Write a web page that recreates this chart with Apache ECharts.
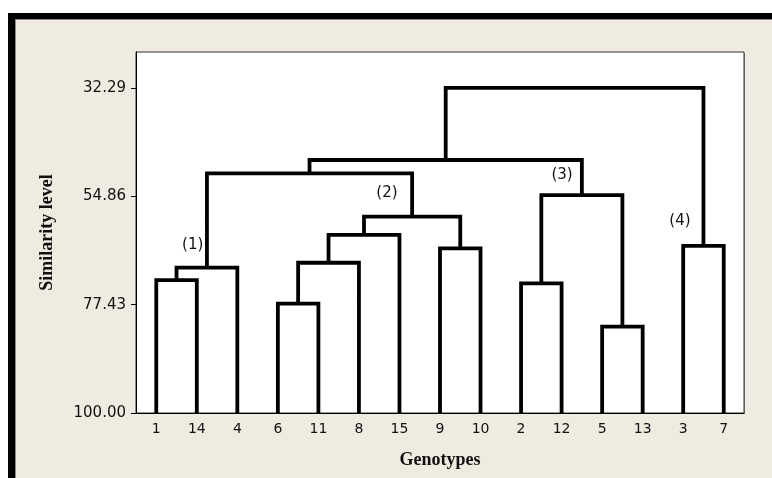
<!DOCTYPE html>
<html>
<head>
<meta charset="utf-8">
<script src="https://cdn.jsdelivr.net/npm/echarts@6/dist/echarts.min.js"></script>
<style>
html,body{margin:0;padding:0;background:#fff;}
#chart{width:772px;height:478px;}
</style>
</head>
<body>
<div id="chart"></div>
<script>
// Leaf order along the x axis (genotypes)
const leaves = ['1','14','4','6','11','8','15','9','10','2','12','5','13','3','7'];
// Y axis tick labels (similarity level)
const yTicks = [32.29, 54.86, 77.43, 100.00];
// Merges: node ids 0..14 are leaves, merge k creates node 15+k
const mergeLeft  = [0, 15, 3, 17, 18, 7, 19, 16, 9, 11, 23, 22, 13, 26];
const mergeRight = [1, 2, 4, 5, 6, 8, 20, 21, 10, 12, 24, 25, 14, 27];
const mergeLevel = [72.3, 69.7, 77.2, 68.7, 62.9, 65.7, 59.1, 50.1, 73.0, 82.0, 54.6, 47.3, 65.2, 32.29];
// Cluster annotations
const clusterNames = ['(1)', '(2)', '(3)', '(4)'];
const clusterX = [0.9, 5.69, 10.01, 12.92];
const clusterLevel = [65.0, 54.2, 50.4, 60.0];

// Build node positions / heights (distance = 100 - similarity)
const nodeX = leaves.map((_, i) => i);
const nodeD = leaves.map(() => 0);
const segs = [];
for (let k = 0; k < mergeLevel.length; k++) {
  const a = mergeLeft[k], b = mergeRight[k];
  const d = 100 - mergeLevel[k];
  segs.push([nodeX[a], nodeD[a], nodeX[b], nodeD[b], d]);
  nodeX.push((nodeX[a] + nodeX[b]) / 2);
  nodeD.push(d);
}
const tickDist = yTicks.map(t => +(100 - t).toFixed(2));
const labelData = clusterNames.map((n, i) => ({ name: n, value: [clusterX[i], 100 - clusterLevel[i]] }));

const chart = echarts.init(document.getElementById('chart'), null, { renderer: 'canvas' });
const tickFont = 'DejaVu Sans';
chart.setOption({
  backgroundColor: '#ffffff',
  animation: false,
  graphic: [
    { type: 'rect', z: -10, shape: { x: 8, y: 13, width: 764, height: 465 }, style: { fill: '#000' }, silent: true },
    { type: 'rect', z: -9, shape: { x: 15, y: 19, width: 757, height: 459 }, style: { fill: '#8a8a8a' }, silent: true },
    { type: 'rect', z: -8, shape: { x: 16, y: 20, width: 756, height: 458 }, style: { fill: '#efebe1' }, silent: true },
    { type: 'rect', z: -7, shape: { x: 137, y: 53, width: 608, height: 361 }, style: { fill: '#8a8a8a' }, silent: true }
  ],
  grid: {
    left: 136, top: 52, width: 608, height: 361,
    show: true, backgroundColor: '#ffffff', borderColor: '#333', borderWidth: 1
  },
  xAxis: [
    {
      type: 'category', data: leaves, boundaryGap: true, gridIndex: 0,
      axisLine: { onZero: false, lineStyle: { color: '#000', width: 1 } },
      axisTick: { alignWithLabel: true, length: 4, lineStyle: { color: '#000' } },
      axisLabel: { color: '#111', fontFamily: tickFont, fontSize: 14, margin: 9 },
      name: 'Genotypes', nameLocation: 'middle', nameGap: 38,
      nameTextStyle: { fontFamily: 'Liberation Serif', fontWeight: 'bold', fontSize: 18, color: '#111' }
    },
    { type: 'value', min: -0.5, max: 14.5, show: false, gridIndex: 0, axisLine: { onZero: false } }
  ],
  yAxis: {
    type: 'value', min: 0, max: 75.2,
    splitLine: { show: false },
    axisLine: { show: true, onZero: false, lineStyle: { color: '#000', width: 1 } },
    axisTick: { show: true, length: 5, customValues: tickDist, lineStyle: { color: '#000' } },
    axisLabel: {
      customValues: tickDist, color: '#111', fontFamily: tickFont, fontSize: 15, margin: 10,
      formatter: v => (100 - v).toFixed(2)
    },
    name: 'Similarity level', nameLocation: 'middle', nameGap: 80, nameRotate: 90,
    nameTextStyle: { fontFamily: 'Liberation Serif', fontWeight: 'bold', fontSize: 18, color: '#111' }
  },
  series: [
    {
      type: 'custom', xAxisIndex: 1, yAxisIndex: 0, data: segs, clip: false,
      renderItem: function (params, api) {
        const xa = api.value(0), da = api.value(1), xb = api.value(2), db = api.value(3), d = api.value(4);
        const pts = [api.coord([xa, da]), api.coord([xa, d]), api.coord([xb, d]), api.coord([xb, db])];
        return {
          type: 'polyline',
          shape: { points: pts },
          style: { stroke: '#000', lineWidth: 3.8, fill: null, lineJoin: 'miter', lineCap: 'butt' }
        };
      }
    },
    {
      type: 'scatter', xAxisIndex: 1, yAxisIndex: 0, symbolSize: 0, data: labelData,
      itemStyle: { color: '#111', opacity: 1 },
      label: {
        show: true, position: 'inside', formatter: p => p.name,
        color: '#111', fontFamily: tickFont, fontSize: 15,
        textBorderWidth: 0, textBorderColor: 'transparent', opacity: 1
      }
    }
  ]
});
</script>
</body>
</html>
